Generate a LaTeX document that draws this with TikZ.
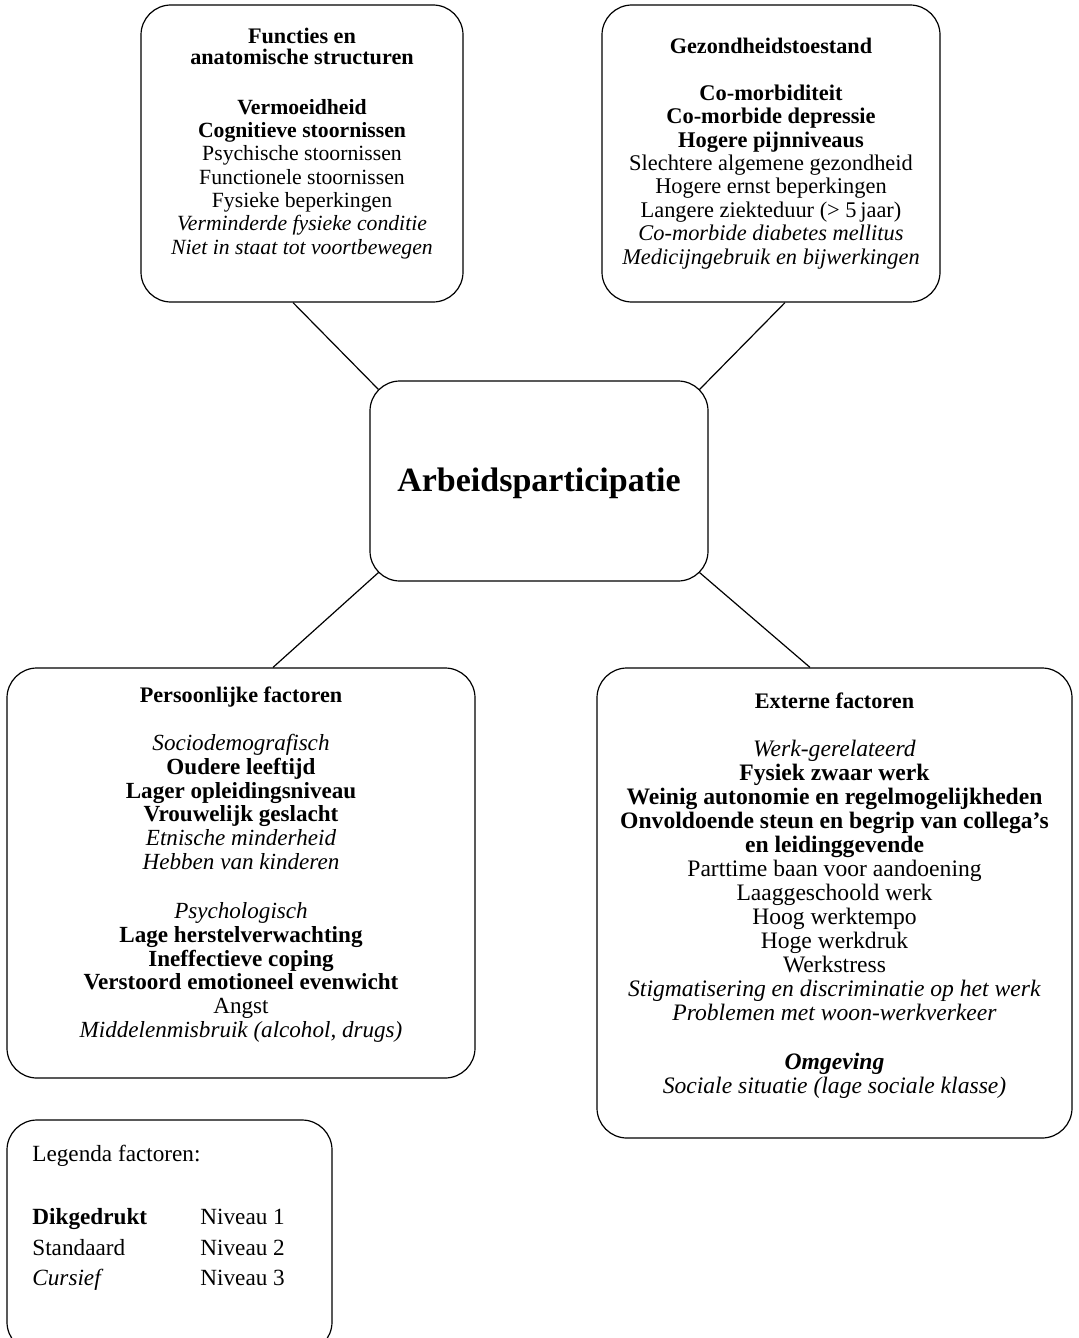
\documentclass[tikz,border=0pt]{standalone}
\usepackage{fontspec}
\setmainfont{Liberation Serif}
\usetikzlibrary{calc}

\tikzset{
  box/.style={draw, rounded corners=15pt, line width=0.6pt, inner sep=0pt},
  body/.style 2 args={align=center, inner sep=0pt, font=\fontsize{#1}{#2}\selectfont},
  body/.default={11.2}{11.8},
}
\newcommand{\kop}[1]{{\fontsize{11.1}{11}\selectfont\bfseries #1}}

\begin{document}
\begin{tikzpicture}[x=0.5pt, y=-0.5pt]
	\useasboundingbox (0,0) rectangle (1078,1338);
	% the five boxes
	\node[box, minimum width=161pt, minimum height=148.5pt] (fun) at (302,153.5) {};
	\node[box, minimum width=169pt, minimum height=148.5pt] (gez) at (771,153.5) {};
	\node[box, minimum width=169pt, minimum height=100pt] (arb) at (539,481) {};
	\node[box, minimum width=234pt, minimum height=205pt] (pers) at (241,873) {};
	\node[box, minimum width=237.5pt, minimum height=235pt] (ext) at (834.5,903) {};
	\node[box, minimum width=162.5pt, minimum height=116pt] (leg) at (169.5,1236) {};

	% texts
	\node[body={10.85}{11.67}, anchor=north] (funtxt) at ($(fun.north)+(0,23)$) {%
		\kop{Functies en}\\[-1.17pt]
		\kop{anatomische structuren}\\[13.3pt]
		\textbf{Vermoeidheid}\\
		\textbf{Cognitieve stoornissen}\\
		Psychische stoornissen\\
		Functionele stoornissen\\
		Fysieke beperkingen\\
		\textit{Verminderde fysieke conditie}\\
		\textit{Niet in staat tot voortbewegen}};
	\node[body={11.2}{11.7}, anchor=north] (geztxt) at ($(gez.north)+(0,33)$) {%
		\kop{Gezondheidstoestand}\\[11.8pt]
		\textbf{Co-morbiditeit}\\
		\textbf{Co-morbide depressie}\\
		\textbf{Hogere pijnniveaus}\\
		Slechtere algemene gezondheid\\
		Hogere ernst beperkingen\\
		Langere ziekteduur (> 5\,jaar)\\
		\textit{Co-morbide diabetes mellitus}\\
		\textit{Medicijngebruik en bijwerkingen}};
	\node[body={17}{18}, anchor=center] (arbtxt) at ($(arb)+(0,2)$) {\bfseries Arbeidsparticipatie};
	\node[body={11.55}{11.9}, anchor=north] (perstxt) at ($(pers.north)+(0,19)$) {%
		\kop{Persoonlijke factoren}\\[12.1pt]
		\textit{Sociodemografisch}\\
		\textbf{Oudere leeftijd}\\
		\textbf{Lager opleidingsniveau}\\
		\textbf{Vrouwelijk geslacht}\\
		\textit{Etnische minderheid}\\
		\textit{Hebben van kinderen}\\[12.6pt]
		\textit{Psychologisch}\\
		\textbf{Lage herstelverwachting}\\
		\textbf{Ineffectieve coping}\\
		\textbf{Verstoord emotioneel evenwicht}\\
		Angst\\
		\textit{Middelenmisbruik (alcohol, drugs)}};
	\node[body={11.8}{12}, anchor=north] (exttxt) at ($(ext.north)+(0,25)$) {%
		\kop{Externe factoren}\\[12pt]
		\textit{Werk-gerelateerd}\\
		\textbf{Fysiek zwaar werk}\\
		\textbf{Weinig autonomie en regelmogelijkheden}\\
		\textbf{Onvoldoende steun en begrip van collega’s}\\
		\textbf{en leidinggevende}\\
		Parttime baan voor aandoening\\
		Laaggeschoold werk\\
		Hoog werktempo\\
		Hoge werkdruk\\
		Werkstress\\
		\textit{Stigmatisering en discriminatie op het werk}\\
		\textit{Problemen met woon-werkverkeer}\\[12.5pt]
		\textit{\textbf{Omgeving}}\\
		\textit{Sociale situatie (lage sociale klasse)}};

	% legend
	\node[body={11.6}{12}, anchor=base west] (legkop) at (32,1161) {Legenda factoren:};
	\node[body={11.6}{12}, anchor=base west] (leg1) at (32,1224) {\textbf{Dikgedrukt}};
	\node[body={11.6}{12}, anchor=base west] (leg2) at (32,1255) {Standaard};
	\node[body={11.6}{12}, anchor=base west] (leg3) at (32,1285) {\textit{Cursief}};
	\node[body={11.6}{12}, anchor=base west] (niv1) at (200,1224) {Niveau 1};
	\node[body={11.6}{12}, anchor=base west] (niv2) at (200,1255) {Niveau 2};
	\node[body={11.6}{12}, anchor=base west] (niv3) at (200,1285) {Niveau 3};

	% connectors
	\draw[line width=0.6pt] ($(fun.south)+(-9,0)$) -- ($(arb.north west)+(9,9)$);
	\draw[line width=0.6pt] ($(gez.south)+(14,0)$) -- ($(arb.north east)+(-9,9)$);
	\draw[line width=0.6pt] ($(arb.south west)+(9,-9)$) -- ($(pers.north)+(32,0)$);
	\draw[line width=0.6pt] ($(arb.south east)+(-9,-9)$) -- ($(ext.north)+(-24.5,0)$);
\end{tikzpicture}
\end{document}
